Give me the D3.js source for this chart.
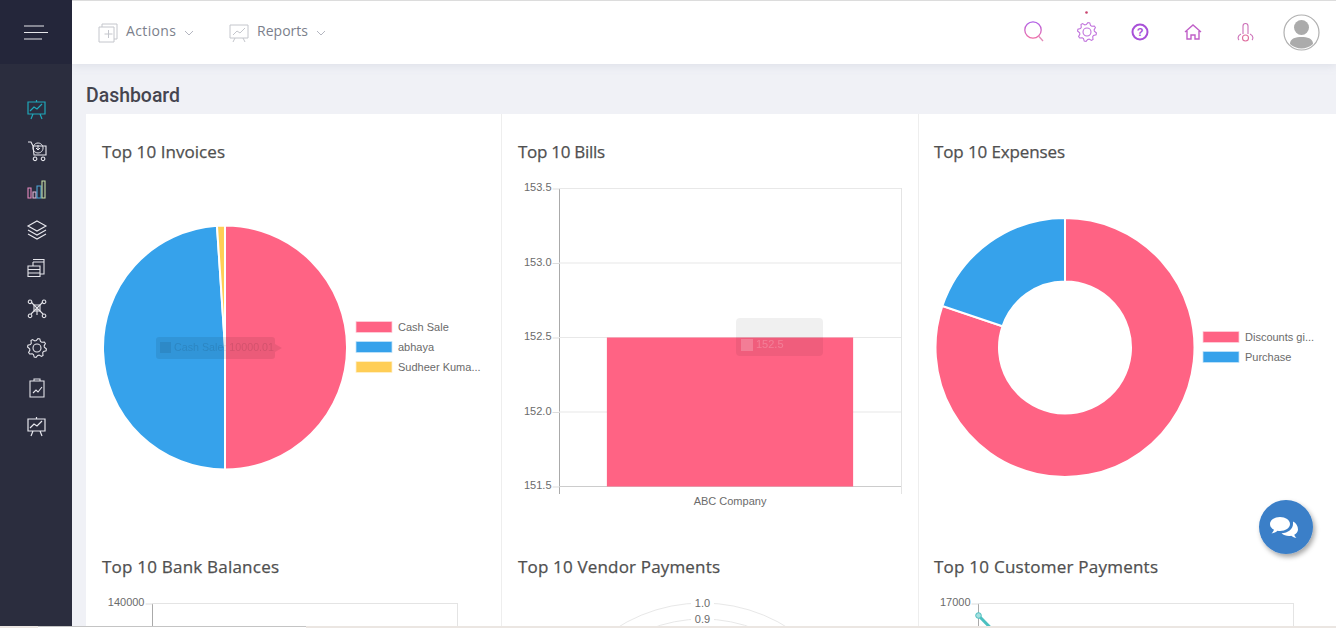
<!DOCTYPE html>
<html><head><meta charset="utf-8">
<script src="https://cdn.jsdelivr.net/npm/d3@7"></script>
<style>
html,body{margin:0;padding:0;background:#f0f1f6;overflow:hidden}
svg{display:block}
text{font-family:"Liberation Sans",Arial,sans-serif}
.ttl{font-family:"Open Sans",sans-serif;font-size:17px;font-weight:400;fill:#505050;stroke:#505050;stroke-width:.25px}
.tick text,.lab{font-size:11px;fill:#6b6b6b}
</style></head><body>
<svg id="c" width="1336" height="628"></svg>
<script>
const invoiceCategories=["Cash Sale","abhaya","Sudheer Kuma..."];
const invoiceValues=[10000.01,9790,210];
const billCategories=["ABC Company"];
const billValues=[152.5];
const billTicks=[151.5,152.0,152.5,153.0,153.5];
const expenseCategories=["Discounts gi...","Purchase"];
const expenseValues=[80.2,19.8];
const vendorTicks=[0.9,1.0];
const bankTicks=[140000];
const customerTicks=[17000];
const customerValues=[16850,15550];
const sliceColors=["#ff6384","#36a2eb","#ffce56"];

const svg=d3.select("#c");
const rect=(x,y,w,h,f,extra={})=>{const r=svg.append("rect").attr("x",x).attr("y",y).attr("width",w).attr("height",h).attr("fill",f);for(const k in extra)r.attr(k,extra[k]);return r;};
const defs=svg.append("defs");
const fs=defs.append("filter").attr("id","soft").attr("x","-30%").attr("y","-30%").attr("width","160%").attr("height","160%");
fs.append("feDropShadow").attr("dx",2).attr("dy",3).attr("stdDeviation",2.5).attr("flood-color","#000").attr("flood-opacity",.35);
const fh=defs.append("filter").attr("id","hdr").attr("x","-5%").attr("y","-20%").attr("width","110%").attr("height","150%");
fh.append("feDropShadow").attr("dx",0).attr("dy",2).attr("stdDeviation",4).attr("flood-color","#8890a8").attr("flood-opacity",.18);
const gr=defs.append("linearGradient").attr("id","gi").attr("x1",0).attr("y1",0).attr("x2",0).attr("y2",1);
gr.append("stop").attr("offset",0).attr("stop-color","#b060e8");
gr.append("stop").attr("offset",1).attr("stop-color","#ee6fa8");
defs.append("clipPath").attr("id","page").append("rect").attr("x",86).attr("y",114).attr("width",1250).attr("height",512);

// page frame
rect(72,0,1264,628,"#f0f1f6");
rect(86,114,1250,512,"#fff");
rect(72,1,1264,63,"#fff",{filter:"url(#hdr)"});
rect(0,0,1336,1,"#dcdcdc");
rect(0,0,72,628,"#2b2d3e");
rect(0,0,72,64,"#24263a");
rect(501,114,1,512,"#eeeeee");
rect(918,114,1,512,"#eeeeee");

// header text
const hdrText=(t,x,len)=>svg.append("text").attr("x",x).attr("y",36).attr("textLength",len).attr("lengthAdjust","spacing")
  .style("font-family","'Open Sans',sans-serif").style("font-size","14px").attr("fill","#7c7f8c").text(t);
hdrText("Actions",126,50);hdrText("Reports",257,51);
svg.append("text").attr("x",86).attr("y",102).attr("textLength",94).attr("lengthAdjust","spacingAndGlyphs")
  .style("font-family","Roboto,sans-serif").style("font-size","20px").style("font-weight",500).attr("fill","#45454f").text("Dashboard");

// icons
const ic=(d,stroke,w=1)=>svg.append("path").attr("d",d).attr("fill","none").attr("stroke",stroke).attr("stroke-width",w);
ic("M24 26H44M24 32.500H48M24 39H42","#e6e6ea",1.2);
const presentation=(x,y,c)=>ic(`M${x} ${y}h17v12h-17zM${x+2} ${y+9}l4-4 3 2 5-5M${x+5} ${y+12}l-2 5M${x+12} ${y+12}l2 5M${x+8.5} ${y-2}v2`,c,1.2);
ic("M99 27h3v-3h15v15h-3v3h-15zM102 27h12v12M108.5 30v8M104.5 34h8","#c4c6cc",1);
ic("M230 25h18v13h-18zM233 35l4-4 3 2 5-5M235 38l-2 4M243 38l2 4","#c4c6cc",1);
ic("M185 31l4 4 4-4","#b4b6c0",1);ic("M317 31l4 4 4-4","#b4b6c0",1);
presentation(28,102,"#1fa8ba");
presentation(28,419,"#e8e8ee");
ic("M28 142h3l2 4h13v9h-12l-1-9M35 157a1.800 1.800 0 1 0 .1 0M43 157a1.800 1.800 0 1 0 .1 0","#eaeaf0",1.1);
ic("M38 143a5 5 0 1 0 .1 0M38 145v5M36 148l2 2 2-2","#eaeaf0",1);
ic("M28 188h3v10h-3z","#e88ac0",1.1);ic("M33 192h3v6h-3z","#e4b8d8",1.1);ic("M37 186h4v12h-4z","#4fa6d8",1.1);ic("M42 181h3v17h-3z","#c8e0a8",1.1);
ic("M37 221l9 5-9 5-9-5zM28 230l9 5 9-5M28 234l9 5 9-5","#e8e8ee",1.1);
ic("M28 266h12v3.500h-12zM28 269.500v3.500h12v-3.500M28 273v3.500h12v-3.500M33 262h11v12h-4M33 262v4M33 259.500h11v2.500","#e4e4ea",1.1);
ic("M37 308l-6-6M37 308l6-6M37 308l-6 6M37 308l6 6M37 308v7","#e4e4ea",1.1);
ic("M30 300a1.8 1.8 0 1 0 .1 0M44 300a1.8 1.8 0 1 0 .1 0M30 314a1.8 1.8 0 1 0 .1 0M44 314a1.8 1.8 0 1 0 .1 0M34 305h6v6h-6z","#e4e4ea",1.1);
const gear=(cx,cy,r,stroke)=>{
  const pts=d3.range(32).map(i=>{const a=i/32*2*Math.PI,k=(i%4<2)?r:r*.78;return [cx+k*Math.cos(a+.1),cy+k*Math.sin(a+.1)];});
  svg.append("path").attr("d",d3.line().curve(d3.curveLinearClosed)(pts)).attr("fill","none").attr("stroke",stroke).attr("stroke-width",1.1);
  svg.append("circle").attr("cx",cx).attr("cy",cy).attr("r",r*.42).attr("fill","none").attr("stroke",stroke).attr("stroke-width",1.1);
};
gear(37,348,9.5,"#e4e4ea");
ic("M30 381h14v16h-14zM34 381v-2h6v2M33 393l3-3 2 2 4-5","#e4e4ea",1.1);
// right header icons
const g="url(#gi)";
svg.append("circle").attr("cx",1033).attr("cy",30).attr("r",8.2).attr("fill","none").attr("stroke",g).attr("stroke-width",1.3);
svg.append("path").attr("d","M1039 36.500L1043 41").attr("stroke","#e38ab8").attr("stroke-width",1.3);
gear(1087,32,9.5,"#c072dc");
svg.append("circle").attr("cx",1086.500).attr("cy",12.500).attr("r",1.300).attr("fill","#c8436e");
svg.append("circle").attr("cx",1140).attr("cy",32).attr("r",7.500).attr("fill","none").attr("stroke","#a850d8").attr("stroke-width",2);
svg.append("text").attr("x",1140).attr("y",36).attr("text-anchor","middle").style("font-size","11px").style("font-weight",700).attr("fill","#a850d8").text("?");
ic("M1185 32l8-7 8 7M1187 31v8h4v-4h4v4h4v-8","#c060c8",1.4);
ic("M1243 34v-8a2.500 2.500 0 0 1 5 0v8M1241 34c-4 2-3 5-2 6M1250 34c4 2 3 5 2 6","#cc70b8",1.1);
svg.append("circle").attr("cx",1245.500).attr("cy",38).attr("r",3).attr("fill","none").attr("stroke","#e070a0").attr("stroke-width",1.1);
svg.append("circle").attr("cx",1301.500).attr("cy",32.500).attr("r",17.500).attr("fill","#fff").attr("stroke","#b0b0b0").attr("stroke-width",1.2);
svg.append("circle").attr("cx",1301.500).attr("cy",27.500).attr("r",7.500).attr("fill","#ababab");
svg.append("path").attr("d","M1290 44c0-6 6-7 11.500-7s11.500 1 11.500 7a17 17 0 0 1-23 0z").attr("fill","#ababab");

// titles
const title=(t,x,y,len)=>svg.append("text").attr("class","ttl").attr("x",x).attr("y",y).attr("textLength",len).attr("lengthAdjust","spacing").text(t);
title("Top 10 Invoices",102,158,123);
title("Top 10 Bills",518,158,87);
title("Top 10 Expenses",934,158,131);
title("Top 10 Bank Balances",102,573,177);
title("Top 10 Vendor Payments",518,573,202);
title("Top 10 Customer Payments",934,573,224);

// pies
const pie=d3.pie().sort(null);
function drawPie(values,cx,cy,inner,outer){
  const arc=d3.arc().innerRadius(inner).outerRadius(outer);
  svg.append("g").attr("transform",`translate(${cx},${cy})`).selectAll("path").data(pie(values)).join("path")
    .attr("d",arc).attr("fill",(d,i)=>sliceColors[i]).attr("stroke","#fff").attr("stroke-width",2);
}
function legend(cats,x,y){
  const g=svg.append("g");
  cats.forEach((c,i)=>{
    const yy=y+i*20;
    g.append("rect").attr("x",x+.5).attr("y",yy-5).attr("width",35).attr("height",10)
      .attr("fill",sliceColors[i]).attr("stroke",d3.color(sliceColors[i]).copy({opacity:.45})).attr("stroke-width",1.5);
    g.append("text").attr("class","lab").attr("x",x+42).attr("y",yy+3.500).text(c);
  });
}
drawPie(invoiceValues,225,347.500,0,122);
legend(invoiceCategories,356,327);
drawPie(expenseValues,1065,347.500,66,129.500);
legend(expenseCategories,1203,337);

// invoice tooltip
svg.append("path").attr("d","M159 337h113q3 0 3 3v4l7 4-7 4v4q0 3-3 3h-113q-3 0-3-3v-16q0-3 3-3z").attr("fill","#000").attr("opacity",.08);
rect(160,342,11,11,"#000",{opacity:.08});
svg.append("text").attr("x",174).attr("y",351).attr("textLength",100).attr("lengthAdjust","spacingAndGlyphs").style("font-size","11px").attr("fill","#000").attr("opacity",.1).text("Cash Sale: 10000.01");

// bar chart
const barX=d3.scaleBand().domain(billCategories).range([559,901]).paddingInner(.28).paddingOuter(.14);
const barY=d3.scaleLinear().domain([151.5,153.5]).range([486.500,188.500]);
const gy=svg.append("g").attr("transform","translate(559.5,0)")
  .call(d3.axisLeft(barY).tickValues(billTicks).tickFormat(d3.format(".1f")).tickSize(7).tickPadding(1));
gy.selectAll(".tick text").attr("dy","0.2em");
gy.selectAll(".tick line").attr("stroke","#ddd");gy.select(".domain").attr("stroke","#aaa").attr("d","M0 188V494");
billTicks.forEach(t=>rect(559,barY(t)-.5,342,1,t===151.5?"#ccc":"#e8e8e8"));
rect(901,188,1,306,"#e4e4e4");
svg.selectAll(".bar").data(billValues).join("rect").attr("class","bar")
  .attr("x",(d,i)=>barX(billCategories[i])).attr("width",barX.bandwidth())
  .attr("y",d=>barY(d)).attr("height",d=>barY(151.5)-barY(d)).attr("fill","#ff6384");
const gx=svg.append("g").attr("transform","translate(0,486.5)").call(d3.axisBottom(barX).tickSize(0).tickPadding(11));
gx.select(".domain").remove();
rect(736,318,87,38,"#000",{rx:4,opacity:.06});
rect(741,339,12,12,"#fff",{opacity:.2});
svg.append("text").attr("x",756).attr("y",348).style("font-size","11px").attr("fill","#fff").attr("opacity",.2).text(billValues[0]);

// bottom charts
const clip=svg.append("g").attr("clip-path","url(#page)");
const bankY=d3.scaleLinear().domain([120000,140000]).range([683.500,603.500]);
const bg=clip.append("g").attr("transform","translate(152.5,0)").call(d3.axisLeft(bankY).tickValues(bankTicks).tickSize(7).tickPadding(1).tickFormat(d3.format("d")));
bg.selectAll(".tick text").attr("dy","0.14em");
bg.selectAll(".tick line").attr("stroke","#ddd");bg.select(".domain").attr("stroke","#aaa").attr("d","M0 603V640");
clip.append("path").attr("d","M152 603.500H458M457.500 603V640").attr("fill","none").attr("stroke","#e4e4e4");

const rr=d3.scaleLinear().domain([0,1]).range([0,160]);
vendorTicks.forEach(t=>clip.append("circle").attr("cx",702.500).attr("cy",763).attr("r",rr(t)).attr("fill","none").attr("stroke","#e8e8e8"));
vendorTicks.forEach(t=>{
  rect(691,763-rr(t)-7,23,14,"#fff");
  svg.append("text").attr("class","lab").attr("x",702.500).attr("y",763-rr(t)+4).attr("text-anchor","middle").text(t.toFixed(1));
});

const custX=d3.scalePoint().domain(["a","b"]).range([978.500,1080]);
const custY=d3.scaleLinear().domain([16000,17000]).range([683.500,603.500]);
const cg=clip.append("g").attr("transform","translate(978.5,0)").call(d3.axisLeft(custY).tickValues(customerTicks).tickSize(7).tickPadding(1).tickFormat(d3.format("d")));
cg.selectAll(".tick text").attr("dy","0.14em");
cg.selectAll(".tick line").attr("stroke","#ddd");cg.select(".domain").attr("stroke","#aaa").attr("d","M0 603V640");
clip.append("path").attr("d","M978 603.500H1294M1293.500 603V640").attr("fill","none").attr("stroke","#e4e4e4");
clip.append("path").datum(customerValues).attr("d",d3.line().x((d,i)=>custX(["a","b"][i])).y(d=>custY(d))).attr("fill","none").attr("stroke","#4bc0c0").attr("stroke-width",3);
clip.append("circle").attr("cx",custX("a")).attr("cy",custY(customerValues[0])).attr("r",2.800).attr("fill","#a5dfdf").attr("stroke","#4bc0c0").attr("stroke-width",1);

// chat button
svg.append("circle").attr("cx",1286).attr("cy",527).attr("r",27).attr("fill","#3a7fc8").attr("filter","url(#soft)");
svg.append("path").attr("d","M1280 517c-5.500 0-10 3-10 7 0 2.500 1.500 4.500 4 5.700-.5 1.500-1.500 2.800-2.500 3.800 2.500-.3 4.500-1.300 6-2.700.8.1 1.700.2 2.500.2 5.500 0 10-3 10-7s-4.500-7-10-7z").attr("fill","#fff");
svg.append("path").attr("d","M1293 521.500c0 .7 0 1 0 2.500 0 5-5 9-11.500 9.300 2 1.700 4.500 2.700 7.500 2.700.8 0 1.500-.1 2.200-.2 1.500 1.300 3.300 2 5.300 2.200-.9-.8-1.800-2-2.200-3.300 2.200-1.200 3.700-3.100 3.700-5.200 0-3.600-2-6.600-5-8z").attr("fill","#fff");

// bottom window strip
rect(0,626,1336,2,"#ebe6e2");
rect(38,626,268,2,"#fff");
rect(38,626,268,1,"#c4c4c4");
</script>
</body></html>
